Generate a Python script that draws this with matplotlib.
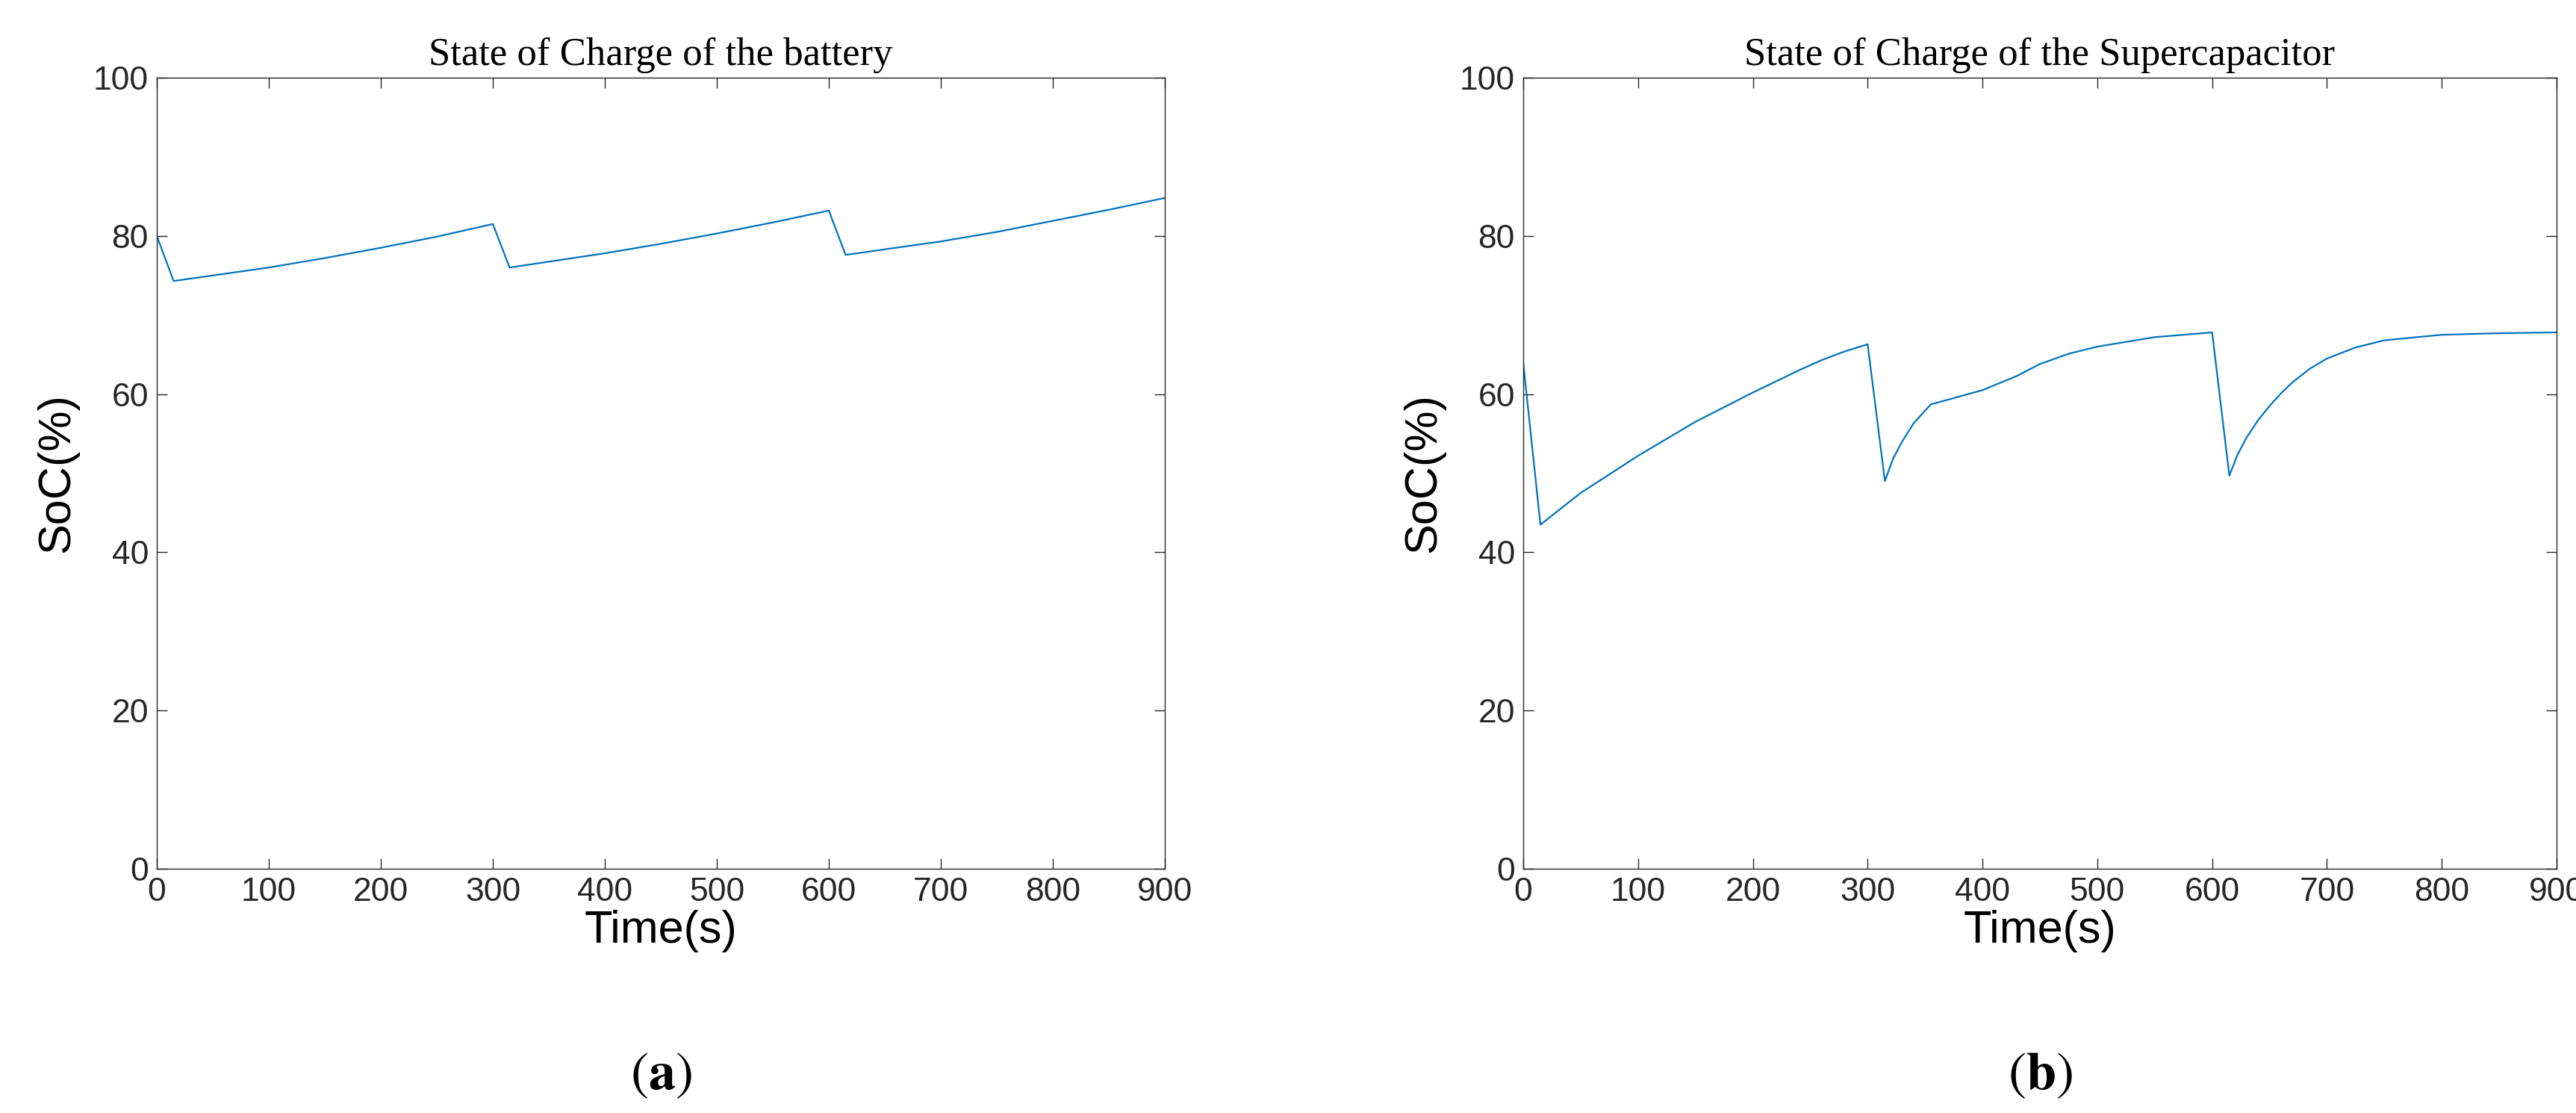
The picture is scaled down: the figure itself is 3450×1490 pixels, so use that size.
import numpy as np
import matplotlib.pyplot as plt

plt.rcParams['mathtext.fontset'] = 'stix'

# battery SoC
bat_t = [0, 15, 60, 100, 150, 200, 250, 300, 315, 400, 450, 500, 550, 600, 615, 700, 750, 800, 850, 900]
bat_soc = [80, 74.3, 75.2, 76.0, 77.2, 78.5, 79.9, 81.5, 76.0, 77.8, 79.0, 80.3, 81.7, 83.2, 77.6, 79.3, 80.5, 81.9, 83.3, 84.8]

# supercapacitor SoC
sc_t = [0, 15, 50, 100, 150, 200, 220, 240, 260, 280, 300, 315, 322, 330, 340, 355, 400, 430, 450, 475, 500, 550, 600,
        615, 622, 630, 640, 650, 660, 670, 685, 700, 725, 750, 800, 850, 900]
sc_soc = [64, 43.5, 47.5, 52.2, 56.5, 60.2, 61.6, 63.0, 64.3, 65.4, 66.3, 49.0, 51.8, 54.0, 56.3, 58.7, 60.5, 62.3, 63.8, 65.1, 66.0, 67.2, 67.8,
          49.7, 52.3, 54.5, 56.7, 58.5, 60.1, 61.5, 63.2, 64.5, 65.9, 66.8, 67.5, 67.7, 67.8]

titles = ["State of Charge of the battery", "State of Charge of the Supercapacitor"]
tags = ["a", "b"]

fig = plt.figure(figsize=(34.5, 14.9), dpi=100)
axes = [fig.add_axes([210/3450, 1-1163/1490, 1350/3450, 1059/1490]),
        fig.add_axes([2040/3450, 1-1163/1490, 1384/3450, 1059/1490])]

for ax, t, y, title, tag in zip(axes, [bat_t, sc_t], [bat_soc, sc_soc], titles, tags):
    ax.plot(t, y, color='#0072BD', lw=1.6)
    ax.set_xlim(0, 900)
    ax.set_ylim(0, 100)
    ax.set_xticks(np.arange(0, 901, 100))
    ax.set_yticks(np.arange(0, 101, 20))
    ax.tick_params(direction='in', top=True, right=True, length=10, width=1,
                   labelsize=32, colors='#262626', pad=8)
    for lab in ax.get_xticklabels() + ax.get_yticklabels():
        lab.set_family('Liberation Sans')
    for s in ax.spines.values():
        s.set_color('#262626')
        s.set_linewidth(1)
    ax.set_xlabel('Time(s)', fontsize=44, family='Liberation Sans', labelpad=2)
    ax.set_ylabel('SoC(%)', fontsize=44, family='Liberation Sans', labelpad=14)
    ax.set_title(title, fontsize=38, family='Liberation Serif', pad=12)
    ax.text(0.5, -0.26, r'$\mathrm{(}\mathbf{' + tag + r'}\mathrm{)}$', transform=ax.transAxes,
            ha='center', va='center', fontsize=52)

fig.savefig('out.png', dpi=100)
